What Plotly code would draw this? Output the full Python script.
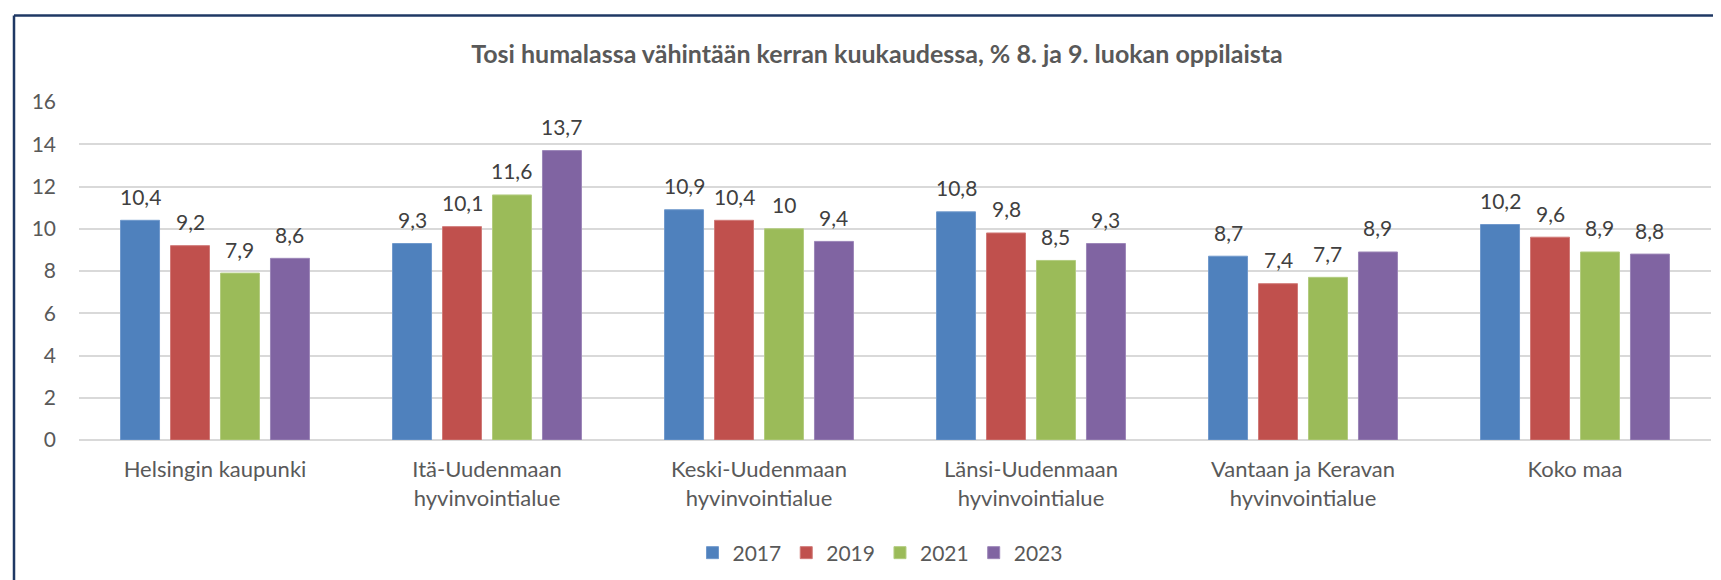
import plotly.graph_objects as go

categories = ["Helsingin kaupunki", "Itä-Uudenmaan<br>hyvinvointialue", "Keski-Uudenmaan<br>hyvinvointialue",
              "Länsi-Uudenmaan<br>hyvinvointialue", "Vantaan ja Keravan<br>hyvinvointialue", "Koko maa"]
years = ["2017", "2019", "2021", "2023"]
v2017 = [10.4, 9.3, 10.9, 10.8, 8.7, 10.2]
v2019 = [9.2, 10.1, 10.4, 9.8, 7.4, 9.6]
v2021 = [7.9, 11.6, 10.0, 8.5, 7.7, 8.9]
v2023 = [8.6, 13.7, 9.4, 9.3, 8.9, 8.8]
y_ticks = [0, 2, 4, 6, 8, 10, 12, 14, 16]
title = "Tosi humalassa vähintään kerran kuukaudessa, % 8. ja 9. luokan oppilaista"

series = [v2017, v2019, v2021, v2023]
colors = ["#4F81BD", "#C0504D", "#9BBB59", "#8064A2"]
edges = ["#7099CC", "#D07A78", "#B3CC80", "#9C86B8"]

def fmt(v):
    return ("%g" % v).replace(".", ",")

FONT = "Lato, 'Open Sans', sans-serif"

W, H = 1721, 580
l, r, t, b = 71, 18, 94, 148
pw, ph = W - l - r, H - t - b
cat_w = pw / len(categories)
bargap = 0.265
slot = cat_w * (1 - bargap) / len(series)

fig = go.Figure()
annotations = []
for i, (name, vals, c, e) in enumerate(zip(years, series, colors, edges)):
    fig.add_trace(go.Bar(
        x=categories, y=vals, name=name,
        marker=dict(color=c, line=dict(color=e, width=1)),
    ))
    for cat, v in zip(categories, vals):
        annotations.append(dict(
            x=cat, y=v, xref="x", yref="y", text=fmt(v), showarrow=False,
            xshift=(i - (len(series) - 1) / 2) * slot, yshift=24, yanchor="middle",
            font=dict(size=21, color="#404040", family=FONT),
        ))

top_y = (H - b - 7.5) / ph
left_x = (6 - l) / pw

fig.update_layout(
    width=W, height=H,
    margin=dict(l=l, r=r, t=t, b=b),
    paper_bgcolor="white", plot_bgcolor="white",
    barmode="group", bargap=bargap, bargroupgap=0.22,
    font=dict(family=FONT, color="#595959", size=21),
    title=dict(text="<b>" + title + "</b>", xref="container", x=869 / W, xanchor="center",
               y=1 - 46 / H, yanchor="middle",
               font=dict(size=25, color="#595959", family=FONT)),
    xaxis=dict(showgrid=False, showline=False, ticks="", tickfont=dict(size=22, color="#595959"),
               ticklabelstandoff=14, automargin=False),
    yaxis=dict(range=[0, 16], tickvals=y_ticks, showgrid=True, gridcolor="#D9D9D9", gridwidth=1.5,
               zeroline=True, zerolinecolor="#D9D9D9", zerolinewidth=1.5, showline=False,
               tickfont=dict(size=21, color="#595959"), ticklabelstandoff=22, automargin=False),
    legend=dict(orientation="h", x=(872 - l) / pw, xanchor="center", y=(H - b - 545) / ph, yanchor="middle",
                font=dict(size=21, color="#595959"), traceorder="normal", itemwidth=30),
    showlegend=True,
    annotations=annotations,
    shapes=[
        dict(type="line", xref="paper", yref="paper", x0=left_x, x1=1.05, y0=top_y, y1=top_y,
             line=dict(color="#1F3864", width=2.5)),
        dict(type="line", xref="paper", yref="paper", x0=left_x, x1=left_x, y0=-1, y1=top_y,
             line=dict(color="#1F3864", width=2.5)),
    ],
)

fig.write_html("out.html")
